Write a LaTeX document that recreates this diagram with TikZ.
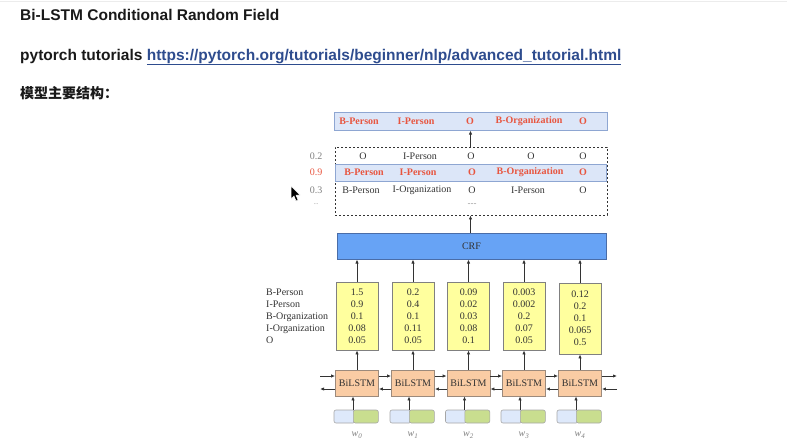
\documentclass[tikz,border=0pt]{standalone}
\usepackage{fontspec}
\setmainfont{Liberation Serif}
\newfontfamily\headfont{Liberation Sans}
\newfontfamily\cjk{Noto Sans CJK SC}
\usepackage{tikz}
\usetikzlibrary{arrows.meta,positioning,calc}
\definecolor{TagRed}{HTML}{E8553F}
\definecolor{PathBlue}{HTML}{DCE6F8}
\definecolor{PathEdge}{HTML}{8EA6D2}
\definecolor{CrfBlue}{HTML}{67A3F5}
\definecolor{CrfEdge}{HTML}{4A6DA8}
\definecolor{ScoreYellow}{HTML}{FFFF9E}
\definecolor{LstmOrange}{HTML}{FACCA4}
\definecolor{LstmEdge}{HTML}{9C8A7C}
\definecolor{EmbBlue}{HTML}{DEE9FB}
\definecolor{EmbGreen}{HTML}{C9DE8F}
\definecolor{LinkBlue}{HTML}{2E4C8E}
\definecolor{InkGray}{HTML}{333333}

\tikzset{
  up/.style={-{Latex[length=4pt,width=3.4pt]},line width=0.8pt,draw=InkGray},
  tag/.style={font=\fontsize{10}{12}\selectfont,inner sep=0pt,text=InkGray},
  redtag/.style={tag,font=\fontsize{10}{12}\selectfont\bfseries,text=TagRed},
  pathbox/.style={draw=PathEdge,fill=PathBlue,line width=1pt,inner sep=0pt},
  scorebox/.style={draw=gray,fill=ScoreYellow,line width=0.8pt,minimum width=42pt,
    inner sep=0pt,align=center,font=\fontsize{10}{12}\selectfont,text=InkGray},
  lstmbox/.style={draw=LstmEdge,fill=LstmOrange,line width=0.8pt,minimum width=43pt,
    minimum height=26pt,inner sep=0pt,font=\fontsize{10}{12}\selectfont,text=InkGray},
  embpart/.style={draw=gray!70,line width=0.6pt,rounded corners=2pt,minimum height=13pt,inner sep=0pt},
  head/.style={anchor=base west,inner sep=0pt,text=black!90}
}

\begin{document}
\begin{tikzpicture}[x=1pt,y=-1pt]
  \useasboundingbox (0,0) rectangle (787,447);
  \draw[gray!15] (0,1)--(787,1);

  % page header
  \node[head,font=\headfont\bfseries\fontsize{15.5}{18}\selectfont] (title) at (20,20)
    {Bi-LSTM Conditional Random Field};
  \node[head,font=\headfont\bfseries\fontsize{15.5}{18}\selectfont] (tut) at (20,60)
    {pytorch tutorials \textcolor{LinkBlue}{\underline{https://pytorch.org/tutorials/beginner/nlp/advanced\_tutorial.html}}};
  \node[head,font=\cjk\bfseries\fontsize{14}{16}\selectfont] (struct) at (20,98) {模型主要结构：};

  % best path
  \node[pathbox,minimum width=273pt,minimum height=18pt] (best) at (470.5,121) {};
  \foreach \t/\x [count=\i] in {B-Person/359,I-Person/416,O/470,B-Organization/529,O/583}
    \node[redtag] (bt\i) at (\x,121) {\t};

  % candidate paths
  \node[draw=InkGray,dash pattern=on 2pt off 2pt,line width=0.8pt,minimum width=272pt,
    minimum height=68pt,inner sep=0pt] (paths) at (471,181) {};
  \node[pathbox,minimum width=271pt,minimum height=17pt] (hl) at (470.5,172.5) {};
  \foreach \t/\x [count=\i] in {O/363,I-Person/420,O/471,O/531,O/583}
    \node[tag] (pa\i) at (\x,156) {\t};
  \foreach \t/\x [count=\i] in {B-Person/364,I-Person/418,O/472,B-Organization/530,O/583}
    \node[redtag] (pb\i) at (\x,172.5) {\t};
  \foreach \t/\x [count=\i] in {B-Person/361,I-Organization/422,O/472,I-Person/528,O/583}
    \node[tag] (pc\i) at (\x,190) {\t};
  \node[tag,font=\fontsize{6}{7}\selectfont] (pd) at (472,204) {......};
  \node[tag,text=gray] (sa) at (316,156) {0.2};
  \node[tag,text=TagRed] (sb) at (316,172.5) {0.9};
  \node[tag,text=gray] (sc) at (316,190) {0.3};
  \node[tag,text=gray,font=\fontsize{6}{7}\selectfont] (sd) at (316,204) {...};
  \draw[up] (best.south |- paths.north) -- (best.south);

  % crf layer
  \node[draw=CrfEdge,fill=CrfBlue,line width=1pt,minimum width=269pt,minimum height=26pt,
    font=\fontsize{10}{12}\selectfont,text=InkGray] (crf) at (471.5,246) {CRF};
  \draw[up] (crf.north -| best.south) -- (paths.south -| best.south);

  % emission scores
  \node[tag,align=left,anchor=west] (rows) at (266,316)
    {B-Person\\I-Person\\B-Organization\\I-Organization\\O};
  \node[scorebox,minimum height=68pt] (s1) at (357,316) {1.5\\0.9\\0.1\\0.08\\0.05};
  \node[scorebox,minimum height=68pt] (s2) at (413,316) {0.2\\0.4\\0.1\\0.11\\0.05};
  \node[scorebox,minimum height=68pt] (s3) at (468.5,316) {0.09\\0.02\\0.03\\0.08\\0.1};
  \node[scorebox,minimum height=68pt] (s4) at (524,316) {0.003\\0.002\\0.2\\0.07\\0.05};
  \node[scorebox,minimum height=71pt] (s5) at (580,318.5) {0.12\\0.2\\0.1\\0.065\\0.5};

  % bilstm and inputs
  \foreach \x [count=\i, evaluate=\i as \k using int(\i-1)] in {357,413,468.5,524,580} {
    \node[lstmbox] (l\i) at (\x,383) {BiLSTM};
    \node[embpart,fill=EmbBlue,minimum width=21pt] (eb\i) at (\x-12.5,416.5) {};
    \node[embpart,fill=EmbGreen,minimum width=25pt,anchor=west] (eg\i) at (\x-4,416.5) {};
    \node[tag,text=gray,font=\fontsize{10}{12}\selectfont\itshape] (w\i) at (\x,435)
      {w\textsubscript{\k}};
    \draw[up] (eg\i.north west) -- (eg\i.north west |- l\i.south);
    \draw[up] (l\i.north) -- (l\i.north |- s\i.south);
    \draw[up] (s\i.north) -- (s\i.north |- crf.south);
  }
  \foreach \i/\j in {1/2,2/3,3/4,4/5} {
    \draw[up] ([yshift=7pt]l\i.east) -- ([yshift=7pt]l\j.west);
    \draw[up] ([yshift=-6pt]l\j.west) -- ([yshift=-6pt]l\i.east);
  }
  \coordinate (inl) at (320,383);
  \coordinate (inr) at (617,383);
  \draw[up] ([yshift=7pt]inl) -- ([yshift=7pt]l1.west);
  \draw[up] ([yshift=-6pt]l1.west) -- ([yshift=-6pt]inl);
  \draw[up] ([yshift=7pt]l5.east) -- ([yshift=7pt]inr);
  \draw[up] ([yshift=-6pt]inr) -- ([yshift=-6pt]l5.east);

  % pointer
  \fill[draw=white,line width=0.5pt] (291,186) -- (291,199) -- (294,196) -- (296,201)
    -- (298,200) -- (296,195) -- (300,195) -- cycle;
\end{tikzpicture}
\end{document}
